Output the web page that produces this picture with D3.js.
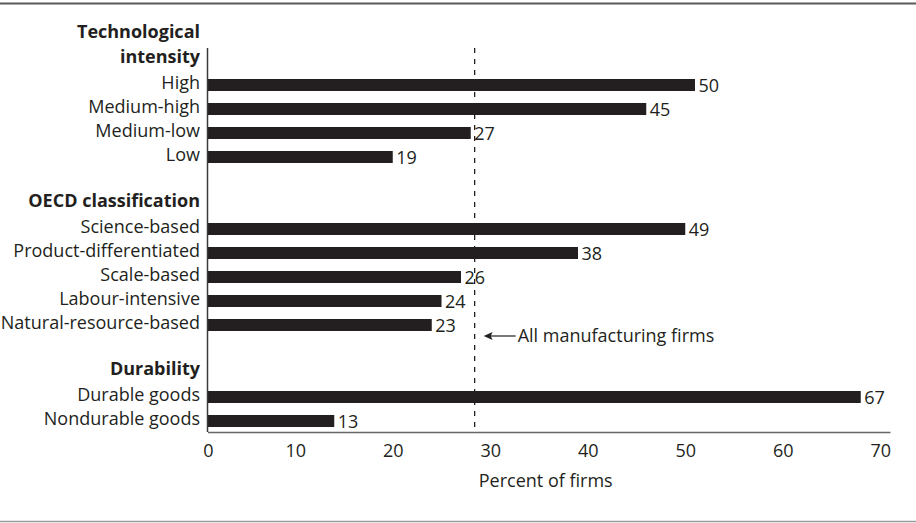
<!DOCTYPE html>
<html>
<head>
<meta charset="utf-8">
<script src="https://cdn.jsdelivr.net/npm/d3@7"></script>
<style>
  html, body { margin: 0; padding: 0; background: #fff; }
  svg { display: block; }
  text { font-family: "Open Sans", "Noto Sans", sans-serif; fill: #231f20; }
</style>
</head>
<body>
<svg id="chart" width="916" height="523"></svg>
<script>
// ---- Data ----
const groupTitles = ["Technological intensity", "OECD classification", "Durability"];
const techCategories = ["High", "Medium-high", "Medium-low", "Low"];
const techValues = [50, 45, 27, 19];
const oecdCategories = ["Science-based", "Product-differentiated", "Scale-based", "Labour-intensive", "Natural-resource-based"];
const oecdValues = [49, 38, 26, 24, 23];
const durabilityCategories = ["Durable goods", "Nondurable goods"];
const durabilityValues = [67, 13];
const allFirmsValue = 27.4;
const allFirmsLabel = "All manufacturing firms";
const xTickValues = [0, 10, 20, 30, 40, 50, 60, 70];
const xAxisTitle = "Percent of firms";

// ---- Build rows ----
const groups = [
  { title: groupTitles[0], cats: techCategories, vals: techValues },
  { title: groupTitles[1], cats: oecdCategories, vals: oecdValues },
  { title: groupTitles[2], cats: durabilityCategories, vals: durabilityValues }
];
const rows = [];
groups.forEach((g, gi) => {
  rows.push({ key: "hdr" + gi, type: "header", label: g.title });
  g.cats.forEach((c, i) => rows.push({ key: c, type: "bar", label: c, value: g.vals[i] }));
  if (gi < groups.length - 1) rows.push({ key: "gap" + gi, type: "gap" });
});

const svg = d3.select("#chart");
const ink = "#231f20";

const x = d3.scaleLinear().domain([0, 70]).range([207.5, 890]);
const y = d3.scaleBand().domain(rows.map(r => r.key)).range([49, 433])
  .paddingInner(0.5).paddingOuter(0.25);
const bw = y.bandwidth();
const axisY = 432;

// frame lines
svg.append("line").attr("x1", 0).attr("x2", 916).attr("y1", 3.5).attr("y2", 3.5)
  .attr("stroke", "#5a5a5a").attr("stroke-width", 2);
svg.append("line").attr("x1", 0).attr("x2", 916).attr("y1", 521.5).attr("y2", 521.5)
  .attr("stroke", "#9a9a9a").attr("stroke-width", 1.5);

// bars
const barRows = rows.filter(r => r.type === "bar");
svg.append("g").selectAll("rect").data(barRows).join("rect")
  .attr("x", x(0)).attr("y", d => y(d.key))
  .attr("width", d => x(d.value) - x(0)).attr("height", bw)
  .attr("fill", ink);

// value labels
svg.append("g").selectAll("text").data(barRows).join("text")
  .attr("x", d => x(d.value) + 3.5)
  .attr("y", d => y(d.key) + bw / 2 + 6.5)
  .attr("font-size", 18)
  .text(d => d.value);

// category labels
svg.append("g").selectAll("text").data(barRows).join("text")
  .attr("x", 200).attr("y", d => y(d.key) + bw / 2 + 3.5)
  .attr("text-anchor", "end").attr("font-size", 18)
  .text(d => d.label);

// headers
const headerRows = rows.filter(r => r.type === "header");
headerRows.forEach(h => {
  const cy = y(h.key) + bw / 2;
  const words = h.label === "Technological intensity" ? ["Technological", "intensity"] : [h.label];
  const t = svg.append("text").attr("text-anchor", "end").attr("font-size", 18)
    .attr("font-weight", "bold");
  words.forEach((w, i) => {
    t.append("tspan").attr("x", 200)
      .attr("y", cy + 2 - (words.length - 1 - i) * 25.5)
      .text(w);
  });
});

// y axis line
svg.append("line").attr("x1", x(0)).attr("x2", x(0)).attr("y1", 48).attr("y2", axisY)
  .attr("stroke", "#3a3a3a").attr("stroke-width", 1.5);

// x axis
const xAxis = d3.axisBottom(x).tickValues(xTickValues).tickSize(0).tickSizeOuter(0).tickPadding(12);
const gx = svg.append("g").attr("transform", `translate(0,${axisY})`).call(xAxis);
gx.select(".domain").attr("stroke", "#666").attr("stroke-width", 1.5);
gx.selectAll(".tick text")
  .attr("font-size", 18)
  .attr("font-family", "\"Open Sans\", sans-serif")
  .attr("fill", ink)
  .attr("text-anchor", d => d === 0 ? "middle" : "end")
  .attr("dx", d => d === 0 ? 0.5 : 0.5);

// axis title
svg.append("text").attr("x", (x(0) + x(70)) / 2 - 3).attr("y", 487)
  .attr("text-anchor", "middle").attr("font-size", 18).text(xAxisTitle);

// dashed reference line
svg.append("line").attr("x1", x(allFirmsValue)).attr("x2", x(allFirmsValue))
  .attr("y1", 48).attr("y2", axisY)
  .attr("stroke", ink).attr("stroke-width", 1.3).attr("stroke-dasharray", "5,6");

// annotation arrow + label
const annY = y("Natural-resource-based") + bw / 2 + 11;
const ax0 = x(allFirmsValue) + 9;
svg.append("line").attr("x1", ax0 + 4).attr("x2", ax0 + 32).attr("y1", annY).attr("y2", annY)
  .attr("stroke", ink).attr("stroke-width", 1.2);
svg.append("path")
  .attr("d", `M${ax0},${annY} L${ax0 + 9},${annY - 4} L${ax0 + 7},${annY} L${ax0 + 9},${annY + 4} Z`)
  .attr("fill", ink);
svg.append("text").attr("x", ax0 + 34).attr("y", annY + 6)
  .attr("font-size", 18).text(allFirmsLabel);
</script>
</body>
</html>
